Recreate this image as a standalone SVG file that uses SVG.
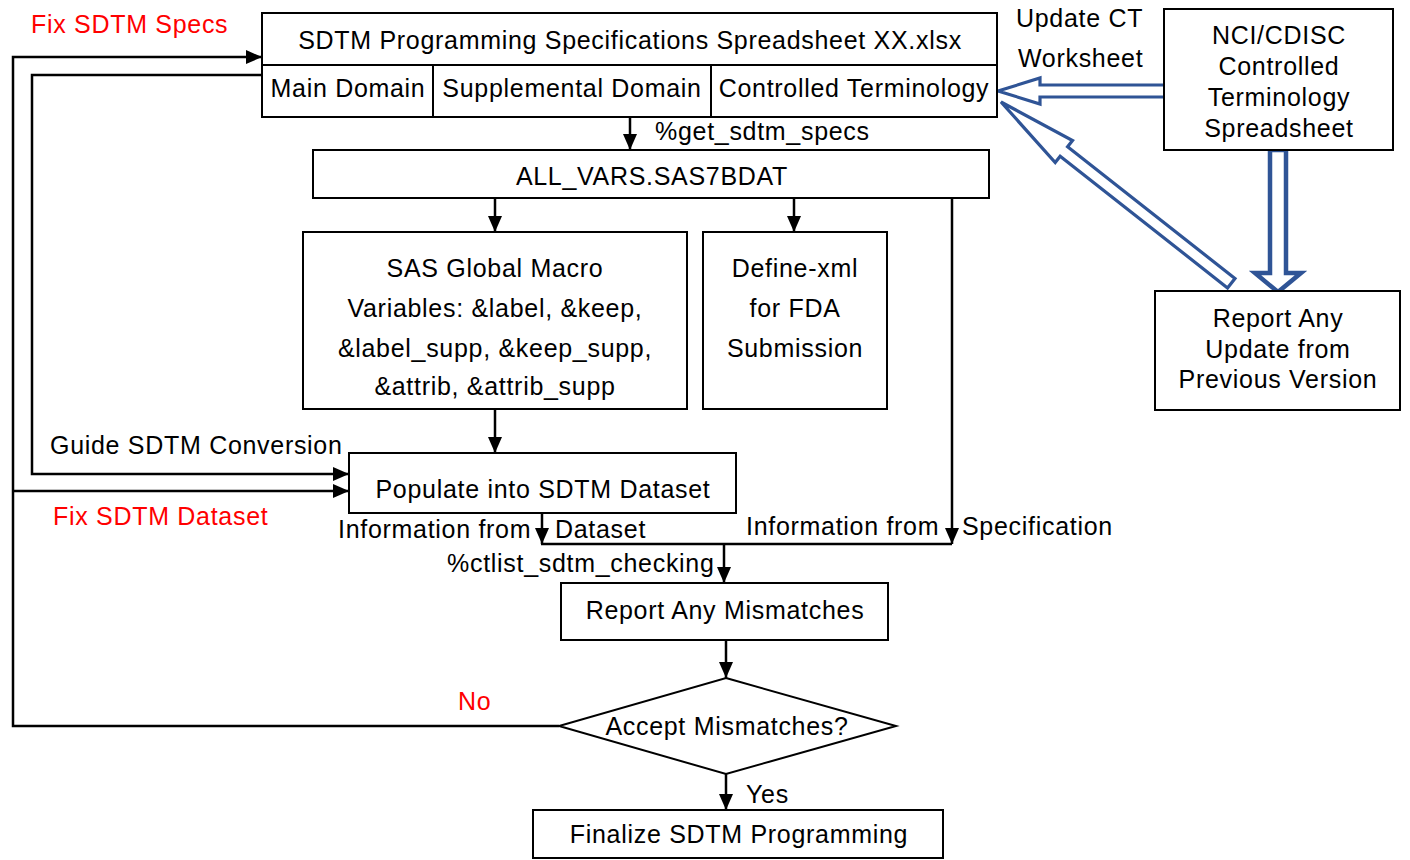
<svg xmlns="http://www.w3.org/2000/svg" width="1410" height="860" viewBox="0 0 1410 860">
<defs>
<style>
text{font-family:"Liberation Sans",Arial,sans-serif;font-size:25px;letter-spacing:0.7px;fill:#000}
.c{text-anchor:middle}
.red{fill:#ff0000}
.box{fill:#fff;stroke:#000;stroke-width:2}
.ln{fill:none;stroke:#000;stroke-width:2.5}
.blk{fill:#fff;stroke:#2f5496;stroke-width:3.2;stroke-linejoin:miter}
</style>
<marker id="ah" markerUnits="userSpaceOnUse" markerWidth="16" markerHeight="14" refX="16" refY="7" orient="auto">
<path d="M0,0 L16,7 L0,14 z" fill="#000"/>
</marker>
</defs>
<rect width="1410" height="860" fill="#fff"/>

<g id="connectors">
<path class="ln" d="M630,117 V150" marker-end="url(#ah)"/>
<path class="ln" d="M495,198 V232" marker-end="url(#ah)"/>
<path class="ln" d="M794,198 V232" marker-end="url(#ah)"/>
<path class="ln" d="M495,410 V453" marker-end="url(#ah)"/>
<path class="ln" d="M952,198 V544" marker-end="url(#ah)"/>
<path class="ln" d="M542,513 V544" marker-end="url(#ah)"/>
<path class="ln" d="M541,544 H952"/>
<path class="ln" d="M724,544 V583" marker-end="url(#ah)"/>
<path class="ln" d="M726,640 V678" marker-end="url(#ah)"/>
<path class="ln" d="M726,774 V810" marker-end="url(#ah)"/>
<path class="ln" d="M559,726 H13 V57 H262" marker-end="url(#ah)"/>
<path class="ln" d="M13,491 H349" marker-end="url(#ah)"/>
<path class="ln" d="M262,75 H32 V474 H349" marker-end="url(#ah)"/>
<polygon class="blk" points="998,91 1040,78 1040,85 1165,85 1165,97 1040,97 1040,104"/>
<polygon class="blk" transform="translate(1001,102) rotate(38.2)" points="0,0 80,-14 80,-6 293,-6 293,6 80,6 80,14"/>
<polygon class="blk" style="stroke-width:4.5" points="1270,150 1286,150 1286,273 1301,273 1278,292 1255,273 1270,273"/>
</g>

<g id="labels">
<text class="red" x="31" y="33">Fix SDTM Specs</text>
<text x="1016" y="27">Update CT</text>
<text x="1018" y="67">Worksheet</text>
<text x="655" y="140">%get_sdtm_specs</text>
<text x="50" y="454">Guide SDTM Conversion</text>
<text class="red" x="53" y="525">Fix SDTM Dataset</text>
<text x="338" y="538">Information from</text>
<text x="555" y="538">Dataset</text>
<text x="746" y="535">Information from</text>
<text x="962" y="535">Specification</text>
<text x="447" y="572">%ctlist_sdtm_checking</text>
<text class="red" x="458" y="710">No</text>
<text x="746" y="803">Yes</text>
</g>

<g id="spec-sheet">
<rect class="box" x="262" y="13" width="735" height="104"/>
<path class="ln" style="stroke-width:2" d="M262,65 H997 M433,65 V117 M711,65 V117"/>
<text class="c" x="630" y="49">SDTM Programming Specifications Spreadsheet XX.xlsx</text>
<text class="c" x="348" y="97">Main Domain</text>
<text class="c" x="572" y="97">Supplemental Domain</text>
<text class="c" x="854" y="97">Controlled Terminology</text>
</g>

<g id="all-vars">
<rect class="box" x="313" y="150" width="676" height="48"/>
<text class="c" x="652" y="185">ALL_VARS.SAS7BDAT</text>
</g>

<g id="sas-macro">
<rect class="box" x="303" y="232" width="384" height="177"/>
<text class="c" x="495" y="277">SAS Global Macro</text>
<text class="c" x="495" y="317">Variables: &amp;label, &amp;keep,</text>
<text class="c" x="495" y="357">&amp;label_supp, &amp;keep_supp,</text>
<text class="c" x="495" y="395">&amp;attrib, &amp;attrib_supp</text>
</g>

<g id="define-xml">
<rect class="box" x="703" y="232" width="184" height="177"/>
<text class="c" x="795" y="277">Define-xml</text>
<text class="c" x="795" y="317">for FDA</text>
<text class="c" x="795" y="357">Submission</text>
</g>

<g id="populate">
<rect class="box" x="349" y="453" width="387" height="60"/>
<text class="c" x="543" y="498">Populate into SDTM Dataset</text>
</g>

<g id="report-mismatches">
<rect class="box" x="561" y="583" width="327" height="57"/>
<text class="c" x="725" y="619">Report Any Mismatches</text>
</g>

<g id="accept">
<polygon class="box" points="726,678 896,726 726,774 559,726"/>
<text class="c" x="727" y="735">Accept Mismatches?</text>
</g>

<g id="finalize">
<rect class="box" x="533" y="810" width="410" height="48"/>
<text class="c" x="739" y="843">Finalize SDTM Programming</text>
</g>

<g id="nci-ct">
<rect class="box" x="1164" y="9" width="229" height="141"/>
<text class="c" x="1279" y="44">NCI/CDISC</text>
<text class="c" x="1279" y="75">Controlled</text>
<text class="c" x="1279" y="106">Terminology</text>
<text class="c" x="1279" y="137">Spreadsheet</text>
</g>

<g id="report-update">
<rect class="box" x="1155" y="291" width="245" height="119"/>
<text class="c" x="1278" y="327">Report Any</text>
<text class="c" x="1278" y="358">Update from</text>
<text class="c" x="1278" y="388">Previous Version</text>
</g>
</svg>
